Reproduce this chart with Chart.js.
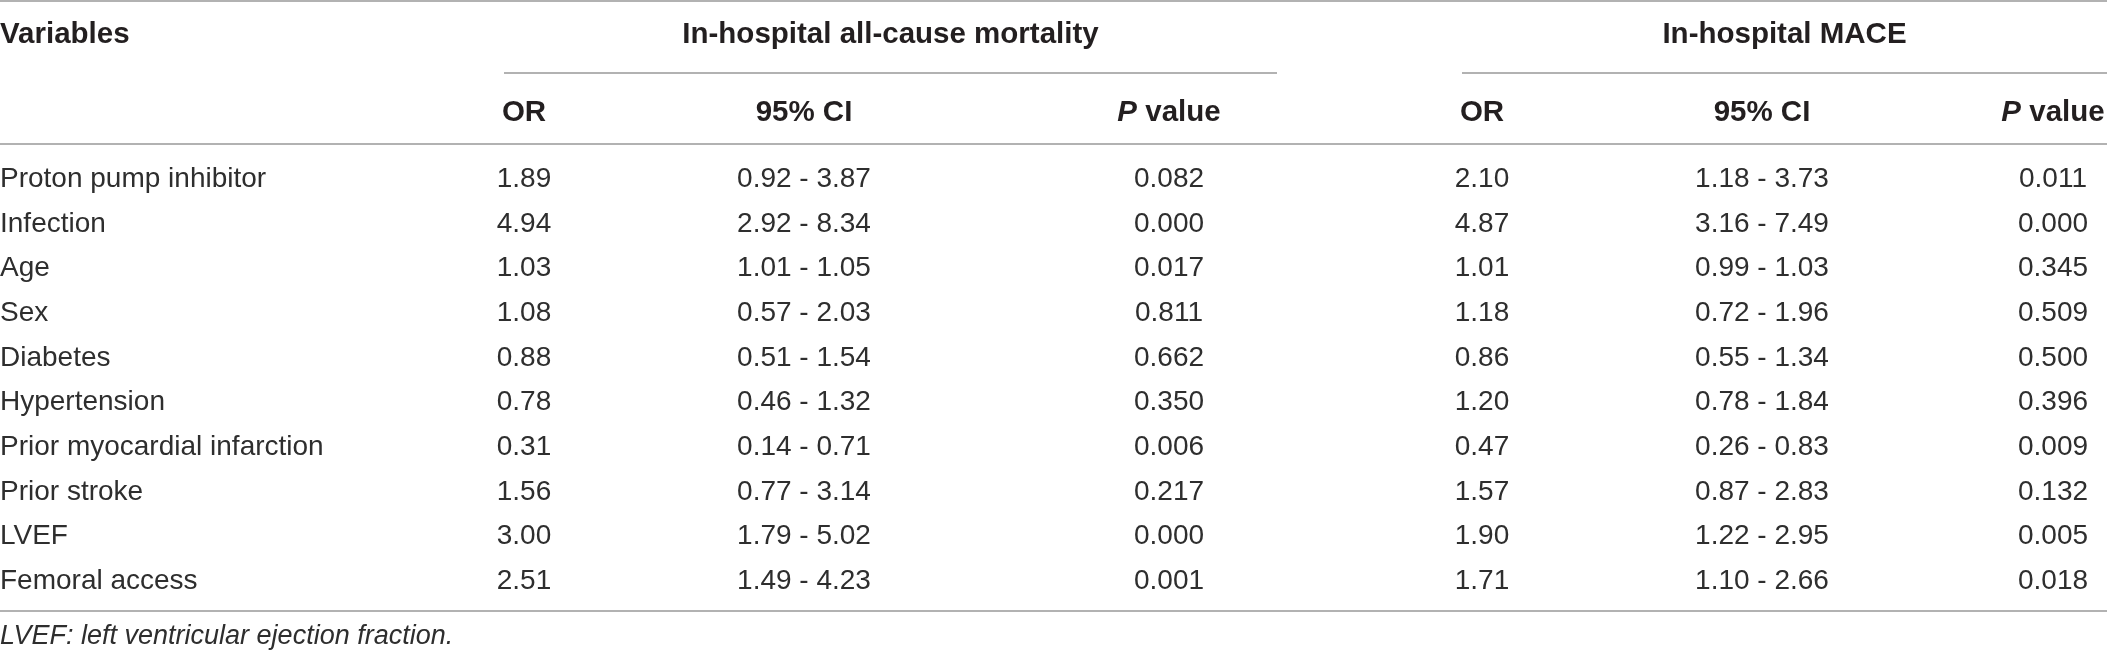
<!DOCTYPE html>
<html>
<head>
<meta charset="utf-8">
<script src="https://cdn.jsdelivr.net/npm/chart.js@4.4.1/dist/chart.umd.min.js"></script>
<style>
  html, body { margin: 0; padding: 0; background: #fff; }
  canvas { display: block; }
</style>
</head>
<body>
<canvas id="table" width="2107" height="652"></canvas>
<script>
// table content
const variables = ['Proton pump inhibitor', 'Infection', 'Age', 'Sex', 'Diabetes', 'Hypertension',
    'Prior myocardial infarction', 'Prior stroke', 'LVEF', 'Femoral access'];
const mortalityOR = ['1.89', '4.94', '1.03', '1.08', '0.88', '0.78', '0.31', '1.56', '3.00', '2.51'];
const mortalityCI = ['0.92 - 3.87', '2.92 - 8.34', '1.01 - 1.05', '0.57 - 2.03', '0.51 - 1.54',
    '0.46 - 1.32', '0.14 - 0.71', '0.77 - 3.14', '1.79 - 5.02', '1.49 - 4.23'];
const mortalityP = ['0.082', '0.000', '0.017', '0.811', '0.662', '0.350', '0.006', '0.217', '0.000', '0.001'];
const maceOR = ['2.10', '4.87', '1.01', '1.18', '0.86', '1.20', '0.47', '1.57', '1.90', '1.71'];
const maceCI = ['1.18 - 3.73', '3.16 - 7.49', '0.99 - 1.03', '0.72 - 1.96', '0.55 - 1.34',
    '0.78 - 1.84', '0.26 - 0.83', '0.87 - 2.83', '1.22 - 2.95', '1.10 - 2.66'];
const maceP = ['0.011', '0.000', '0.345', '0.509', '0.500', '0.396', '0.009', '0.132', '0.005', '0.018'];
const groupHeaders = ['In-hospital all-cause mortality', 'In-hospital MACE'];
const columnHeaders = ['OR', '95% CI', 'P value'];
const firstHeader = 'Variables';
const footnote = 'LVEF: left ventricular ejection fraction.';

// layout: x in px, y in row units (row 0 = first data row)
const colX = [0, 524, 804, 1169, 1482, 1762, 2053];
const groupSpan = [[504, 1277], [1462, 2107]];
const yTopLine = -3.929, yHead1 = -3.246, yUnder = -2.328, yHead2 = -1.5, yHeadLine = -0.739;
const yBottomLine = 9.716, yFoot = 10.231;

const INK = '#231f20';
const BODY_INK = '#2e2e2e';
const RULE = '#b2b2b2';
const FONT = '"Liberation Sans", Arial, Helvetica, sans-serif';
const BODY_SIZE = 28, HEAD_SIZE = 29.5, NOTE_SIZE = 27;

const columns = [variables, mortalityOR, mortalityCI, mortalityP, maceOR, maceCI, maceP];
const datasets = columns.map((col, c) => ({
    label: c === 0 ? firstHeader : columnHeaders[(c - 1) % 3],
    texts: col,
    align: c === 0 ? 'left' : 'center',
    data: col.map((_, i) => ({ x: colX[c], y: i })),
    pointRadius: 0,
    showLine: false
}));

function hline(ctx, x0, x1, y) {
    ctx.beginPath();
    ctx.moveTo(x0, y);
    ctx.lineTo(x1, y);
    ctx.stroke();
}

// text is placed by the centre of its capitals
function capText(ctx, txt, x, y, size) {
    ctx.fillText(txt, x, y + size * 0.358);
}

const tablePlugin = {
    id: 'tableText',
    afterDatasetsDraw(chart) {
        const ctx = chart.ctx;
        const xs = chart.scales.x, ys = chart.scales.y;
        ctx.save();
        ctx.textBaseline = 'alphabetic';

        // body cells
        ctx.fillStyle = BODY_INK;
        ctx.font = BODY_SIZE + 'px ' + FONT;
        chart.data.datasets.forEach((ds, d) => {
            const meta = chart.getDatasetMeta(d);
            ctx.textAlign = ds.align;
            meta.data.forEach((pt, i) => capText(ctx, ds.texts[i], pt.x, pt.y, BODY_SIZE));
        });

        // rules
        ctx.strokeStyle = RULE;
        ctx.lineWidth = 2;
        hline(ctx, xs.left, xs.right, Math.round(ys.getPixelForValue(yTopLine)));
        hline(ctx, xs.left, xs.right, Math.round(ys.getPixelForValue(yHeadLine)));
        hline(ctx, xs.left, xs.right, Math.round(ys.getPixelForValue(yBottomLine)));
        groupSpan.forEach(s => hline(ctx, xs.getPixelForValue(s[0]), xs.getPixelForValue(s[1]),
            Math.round(ys.getPixelForValue(yUnder))));

        // headers
        ctx.fillStyle = INK;
        const bold = 'bold ' + HEAD_SIZE + 'px ' + FONT;
        const boldItalic = 'italic bold ' + HEAD_SIZE + 'px ' + FONT;
        ctx.font = bold;
        ctx.textAlign = 'left';
        capText(ctx, firstHeader, xs.getPixelForValue(colX[0]), ys.getPixelForValue(yHead1), HEAD_SIZE);
        ctx.textAlign = 'center';
        groupHeaders.forEach((g, k) => {
            const mid = (groupSpan[k][0] + groupSpan[k][1]) / 2;
            capText(ctx, g, xs.getPixelForValue(mid), ys.getPixelForValue(yHead1), HEAD_SIZE);
        });
        const yh = ys.getPixelForValue(yHead2);
        for (let c = 1; c < columns.length; c++) {
            const h = columnHeaders[(c - 1) % 3];
            const cx = xs.getPixelForValue(colX[c]);
            if (h.startsWith('P ')) {
                ctx.font = boldItalic;
                const wp = ctx.measureText('P').width;
                ctx.font = bold;
                const wr = ctx.measureText(h.slice(1)).width;
                const x = cx - (wp + wr) / 2;
                ctx.textAlign = 'left';
                ctx.font = boldItalic;
                capText(ctx, 'P', x, yh, HEAD_SIZE);
                ctx.font = bold;
                capText(ctx, h.slice(1), x + wp, yh, HEAD_SIZE);
                ctx.textAlign = 'center';
            } else {
                capText(ctx, h, cx, yh, HEAD_SIZE);
            }
        }

        // footnote
        ctx.fillStyle = BODY_INK;
        ctx.font = 'italic ' + NOTE_SIZE + 'px ' + FONT;
        ctx.textAlign = 'left';
        capText(ctx, footnote, xs.getPixelForValue(colX[0]), ys.getPixelForValue(yFoot), NOTE_SIZE);
        ctx.restore();
    }
};

new Chart(document.getElementById('table'), {
    type: 'scatter',
    data: { datasets: datasets },
    options: {
        responsive: false,
        animation: false,
        events: [],
        layout: { padding: 0 },
        plugins: { legend: { display: false }, tooltip: { enabled: false } },
        scales: {
            x: { type: 'linear', display: false, min: 0, max: 2107 },
            y: { type: 'linear', display: false, reverse: true, min: -3.962, max: 10.634 }
        }
    },
    plugins: [tablePlugin]
});
</script>
</body>
</html>
